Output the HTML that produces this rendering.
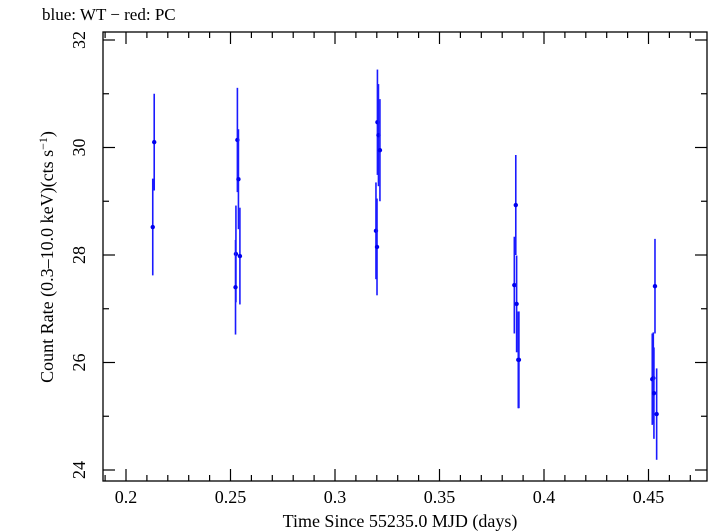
<!DOCTYPE html>
<html><head><meta charset="utf-8"><style>
body{margin:0;background:#fff;}
svg{display:block;font-family:"Liberation Serif",serif;}
</style></head><body>
<svg id="chart" width="709" height="532" viewBox="0 0 709 532" xmlns="http://www.w3.org/2000/svg">
<text x="42" y="20" font-size="17">blue: WT − red: PC</text>
<rect x="103" y="32" width="604" height="449" fill="none" stroke="#000" stroke-width="1.3"/>
<g id="ticks"></g>
<g id="marks"></g>
<text x="400" y="527" font-size="18" text-anchor="middle">Time Since 55235.0 MJD (days)</text>
<text transform="translate(53,257) rotate(-90)" font-size="18" text-anchor="middle">Count Rate (0.3–10.0 keV)(cts s<tspan dy="-6" font-size="12">−1</tspan><tspan dy="6">)</tspan></text>
</svg>
<script>
const times=[0.2135,0.2128,0.2533,0.2538,0.2526,0.2524,0.2545,0.3203,0.3208,0.3215,0.3196,0.3201,0.3865,0.3858,0.3869,0.3877,0.3880,0.4531,0.4518,0.4523,0.4526,0.4539];
const rates=[30.10,28.52,30.14,29.41,28.02,27.40,27.98,30.47,30.23,29.95,28.45,28.15,28.93,27.44,27.09,26.05,26.05,27.42,25.69,25.71,25.43,25.04];
const errors=[0.9,0.9,0.97,0.93,0.9,0.88,0.9,0.98,0.95,0.95,0.9,0.9,0.93,0.9,0.9,0.9,0.9,0.88,0.85,0.85,0.85,0.85];
const xTickLabels=["0.2","0.25","0.3","0.35","0.4","0.45"];
const yTickLabels=["24","26","28","30","32"];
const X=t=>126+(t-0.2)*2090;
const Y=v=>470-(v-24)*53.75;
const NS="http://www.w3.org/2000/svg";
const tk=document.getElementById('ticks'), mk=document.getElementById('marks');
function line(p,x1,y1,x2,y2,c,w,name){const l=document.createElementNS(NS,'line');
l.setAttribute('x1',x1);l.setAttribute('y1',y1);l.setAttribute('x2',x2);l.setAttribute('y2',y2);
l.setAttribute('stroke',c);l.setAttribute('stroke-width',w);


p.appendChild(l);return l;}
for(let i=19;i<=47;i++){const t=i/100,x=X(t);const maj=i%5===0;const L=maj?12:6;
line(tk,x,481,x,481-L,'#000',1.2,'x-tick');line(tk,x,32,x,32+L,'#000',1.2,'x-tick');}
xTickLabels.forEach(s=>{const tx=document.createElementNS(NS,'text');
tx.setAttribute('x',X(parseFloat(s)));tx.setAttribute('y',503);tx.setAttribute('font-size','18');tx.setAttribute('text-anchor','middle');tx.textContent=s;


tk.appendChild(tx);});
for(let v=24;v<=32;v++){const y=Y(v);const maj=v%2===0;const L=maj?12:6;
line(tk,103,y,103+L,y,'#000',1.2,'y-tick');line(tk,707,y,707-L,y,'#000',1.2,'y-tick');}
yTickLabels.forEach(s=>{const tx=document.createElementNS(NS,'text');
tx.setAttribute('transform',`translate(85,${Y(parseFloat(s))}) rotate(-90)`);tx.setAttribute('font-size','18');tx.setAttribute('text-anchor','middle');tx.textContent=s;


tk.appendChild(tx);});
times.forEach((t,i)=>{const x=X(t);
line(mk,x,Y(rates[i]+errors[i]),x,Y(rates[i]-errors[i]),'#1a1aff',1.6,'error-bar');
const c=document.createElementNS(NS,'circle');c.setAttribute('cx',x);c.setAttribute('cy',Y(rates[i]));c.setAttribute('r',2.2);c.setAttribute('fill','#0000ee');


mk.appendChild(c);});
</script>
</body></html>
